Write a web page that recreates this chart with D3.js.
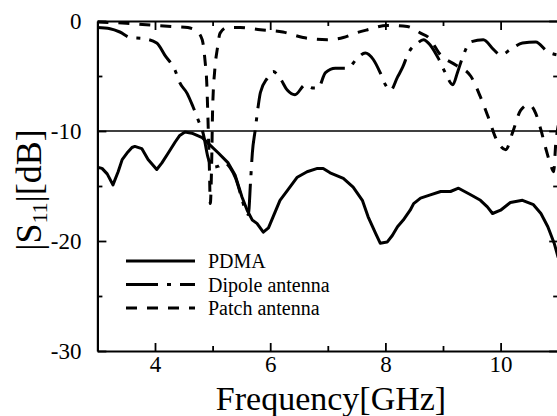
<!DOCTYPE html>
<html>
<head>
<meta charset="utf-8">
<script src="https://cdn.jsdelivr.net/npm/d3@7"></script>
<style>
  body { margin: 0; background: #fff; }
  svg text { font-family: "Liberation Serif", Tinos, "Times New Roman", Times, "DejaVu Serif", serif; fill: #000; }
</style>
</head>
<body>
<div id="chart"></div>
<script>
// PDMA (solid)
const pdmaFreq = [3.0, 3.08, 3.17, 3.27, 3.36, 3.43, 3.53, 3.6, 3.65, 3.77, 3.88, 4.03, 4.12, 4.23, 4.35, 4.43, 4.52, 4.64, 4.82, 4.92, 5.1, 5.27, 5.39, 5.51, 5.6, 5.69, 5.77, 5.88, 5.97, 6.05, 6.17, 6.3, 6.47, 6.64, 6.82, 6.92, 7.04, 7.27, 7.44, 7.6, 7.7, 7.83, 7.91, 8.03, 8.12, 8.21, 8.31, 8.43, 8.49, 8.61, 8.78, 8.96, 9.13, 9.27, 9.48, 9.65, 9.77, 9.86, 10.0, 10.17, 10.38, 10.57, 10.7, 10.82, 10.93, 11.0];
const pdmaS11 = [-13.3, -13.4, -13.9, -14.9, -13.7, -12.6, -11.9, -11.5, -11.4, -11.6, -12.6, -13.5, -12.9, -12.0, -11.0, -10.4, -10.1, -10.2, -10.6, -11.1, -12.0, -12.9, -14.0, -16.0, -17.2, -18.1, -18.4, -19.2, -18.8, -17.8, -16.3, -15.4, -14.2, -13.7, -13.4, -13.4, -13.8, -14.3, -15.1, -16.3, -17.8, -19.3, -20.2, -20.1, -19.5, -18.7, -18.1, -17.2, -16.6, -16.1, -15.8, -15.5, -15.5, -15.2, -15.8, -16.3, -16.9, -17.5, -17.2, -16.5, -16.3, -16.7, -17.5, -18.7, -20.2, -21.5];

// Dipole antenna (dash-dot)
const dipoleFreq = [3.0, 3.22, 3.39, 3.57, 3.8, 4.03, 4.17, 4.35, 4.43, 4.56, 4.66, 4.75, 4.84, 4.92, 5.0, 5.1, 5.2, 5.3, 5.4, 5.5, 5.57, 5.62, 5.66, 5.69, 5.74, 5.79, 5.83, 5.95, 6.05, 6.17, 6.3, 6.43, 6.61, 6.75, 6.83, 6.96, 7.13, 7.34, 7.51, 7.65, 7.79, 7.91, 8.0, 8.09, 8.21, 8.3, 8.4, 8.56, 8.66, 8.78, 8.92, 9.04, 9.17, 9.25, 9.34, 9.48, 9.7, 9.88, 10.0, 10.17, 10.38, 10.61, 10.82, 11.0];
const dipoleS11 = [-0.6, -0.7, -1.0, -1.5, -1.6, -2.0, -3.1, -4.5, -5.6, -6.6, -7.8, -9.0, -10.3, -12.4, -13.3, -13.2, -12.9, -13.3, -14.3, -16.0, -17.2, -17.6, -14.5, -12.0, -9.9, -7.8, -6.5, -5.2, -4.6, -5.2, -6.3, -6.7, -5.8, -6.1, -6.1, -4.7, -4.3, -4.3, -3.4, -2.9, -3.5, -4.7, -5.8, -6.3, -5.1, -4.2, -2.9, -2.0, -1.7, -2.2, -3.4, -4.7, -5.8, -4.7, -3.3, -1.9, -1.7, -2.6, -3.1, -2.6, -2.0, -1.9, -2.8, -3.1];

// Patch antenna (dashed)
const patchFreq = [3.0, 3.5, 4.0, 4.3, 4.57, 4.72, 4.82, 4.87, 4.9, 4.915, 4.93, 4.945, 4.96, 4.985, 5.0, 5.04, 5.08, 5.13, 5.25, 5.48, 5.83, 6.22, 6.57, 6.99, 7.27, 7.48, 7.69, 8.03, 8.38, 8.61, 8.75, 8.96, 9.22, 9.48, 9.65, 9.79, 9.93, 10.09, 10.21, 10.35, 10.49, 10.61, 10.7, 10.78, 10.87, 10.92, 10.96, 11.0];
const patchS11 = [-0.1, -0.2, -0.4, -0.5, -0.6, -0.9, -1.7, -3.7, -5.8, -8.1, -10.8, -13.5, -16.6, -12.6, -8.1, -4.3, -2.6, -1.1, -0.6, -0.6, -0.8, -1.0, -1.5, -1.7, -1.5, -1.1, -0.8, -0.4, -0.5, -1.1, -1.5, -3.1, -4.0, -5.0, -6.9, -8.8, -10.8, -11.7, -10.1, -8.1, -7.6, -8.4, -9.9, -11.5, -13.1, -13.7, -11.0, -9.5];

const xMajor = [4, 6, 8, 10];
const xMinor = [5, 7, 9];
const yMajor = [0, -10, -20, -30];
const yMinor = [-5, -15, -25];
const legendNames = ['PDMA', 'Dipole antenna', 'Patch antenna'];

const serif = '"Liberation Serif", Tinos, "Times New Roman", Times, "DejaVu Serif", serif';
const width = 557, height = 416;
const svg = d3.select('#chart').append('svg')
  .attr('width', width)
  .attr('height', height)
  .attr('font-family', serif);

const x = d3.scaleLinear().domain([3, 11]).range([97.4, 558.2]);
const y = d3.scaleLinear().domain([-30, 0]).range([351, 21]);

const zip = (xs, ys) => xs.map((f, i) => ({ f: f, v: ys[i] }));
const series = [
  { data: zip(pdmaFreq, pdmaS11), dash: null, curve: d3.curveLinear },
  { data: zip(dipoleFreq, dipoleS11), dash: '32,9,4,9', curve: d3.curveMonotoneX },
  { data: zip(patchFreq, patchS11), dash: '11,10', curve: d3.curveMonotoneX },
];

// clip to the plot frame
svg.append('clipPath').attr('id', 'plotclip')
  .append('rect')
  .attr('x', x(3)).attr('y', y(0) - 2)
  .attr('width', x(11) - x(3)).attr('height', y(-30) - y(0) + 2);

const plot = svg.append('g').attr('clip-path', 'url(#plotclip)');

// -10 dB reference line
plot.append('line')
  .attr('x1', x(3)).attr('x2', x(11))
  .attr('y1', y(-10)).attr('y2', y(-10))
  .attr('stroke', '#000').attr('stroke-width', 1.6);

series.forEach(s => {
  plot.append('path')
    .datum(s.data)
    .attr('fill', 'none')
    .attr('stroke', '#000')
    .attr('stroke-width', 3)
    .attr('stroke-linejoin', 'round')
    .attr('stroke-dasharray', s.dash)
    .attr('d', d3.line().curve(s.curve).x(d => x(d.f)).y(d => y(d.v)));
});

// axes with inward ticks
const axisStyle = g => {
  g.attr('font-family', serif);
  g.select('.domain').attr('stroke-width', 2.2);
  g.selectAll('.tick line').attr('stroke-width', 1.8);
  g.selectAll('text').attr('font-family', serif).attr('font-size', 23);
};

svg.append('g')
  .attr('transform', `translate(0,${y(-30)})`)
  .call(d3.axisBottom(x).tickValues(xMajor).tickSize(-8).tickSizeOuter(0).tickPadding(5).tickFormat(d => String(d)))
  .call(axisStyle);
svg.append('g')
  .attr('transform', `translate(0,${y(-30)})`)
  .call(d3.axisBottom(x).tickValues(xMinor).tickSize(-5).tickSizeOuter(0).tickFormat(''))
  .call(g => g.select('.domain').remove())
  .call(axisStyle);

svg.append('g')
  .attr('transform', `translate(0,${y(0)})`)
  .call(d3.axisTop(x).tickValues(xMajor).tickSize(-9).tickSizeOuter(0).tickFormat(''))
  .call(axisStyle);
svg.append('g')
  .attr('transform', `translate(0,${y(0)})`)
  .call(d3.axisTop(x).tickValues(xMinor).tickSize(-5).tickSizeOuter(0).tickFormat(''))
  .call(g => g.select('.domain').remove())
  .call(axisStyle);

svg.append('g')
  .attr('transform', `translate(${x(3)},0)`)
  .call(d3.axisLeft(y).tickValues(yMajor).tickSize(-9).tickSizeOuter(0).tickPadding(16).tickFormat(d => String(d)))
  .call(axisStyle);
svg.append('g')
  .attr('transform', `translate(${x(3)},0)`)
  .call(d3.axisLeft(y).tickValues(yMinor).tickSize(-5).tickSizeOuter(0).tickFormat(''))
  .call(g => g.select('.domain').remove())
  .call(axisStyle);

svg.append('g')
  .attr('transform', `translate(${x(11)},0)`)
  .call(d3.axisRight(y).tickValues(yMajor).tickSize(-9).tickSizeOuter(0).tickFormat(''))
  .call(axisStyle);
svg.append('g')
  .attr('transform', `translate(${x(11)},0)`)
  .call(d3.axisRight(y).tickValues(yMinor).tickSize(-5).tickSizeOuter(0).tickFormat(''))
  .call(g => g.select('.domain').remove())
  .call(axisStyle);

// axis titles
svg.append('text')
  .attr('x', 331).attr('y', 410)
  .attr('text-anchor', 'middle')
  .attr('font-size', 34)
  .text('Frequency[GHz]');

const ylab = svg.append('text')
  .attr('transform', 'translate(41,190) rotate(-90)')
  .attr('text-anchor', 'middle')
  .attr('font-size', 36);
ylab.append('tspan').text('|S');
ylab.append('tspan').attr('dy', 6).attr('font-size', 22).text('11');
ylab.append('tspan').attr('dy', -6).text('|[dB]');

// legend
const legend = svg.append('g');
legendNames.forEach((name, i) => {
  const ly = 261 + i * 23.5;
  legend.append('line')
    .attr('x1', 126).attr('x2', 195)
    .attr('y1', ly).attr('y2', ly)
    .attr('stroke', '#000').attr('stroke-width', 3)
    .attr('stroke-dasharray', series[i].dash);
  legend.append('text')
    .attr('x', 208).attr('y', ly + 7)
    .attr('font-size', 20)
    .text(name);
});
</script>
</body>
</html>
